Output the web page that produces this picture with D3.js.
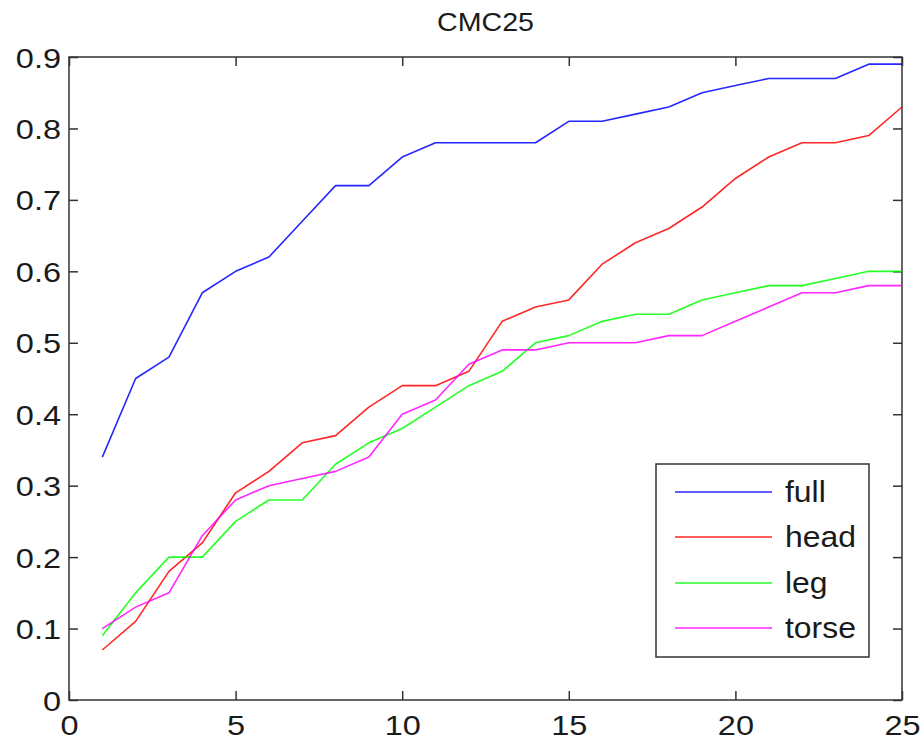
<!DOCTYPE html>
<html>
<head>
<meta charset="utf-8">
<script src="https://cdn.jsdelivr.net/npm/d3@7"></script>
<style>
  html, body { margin: 0; padding: 0; background: #fff; }
  svg { display: block; }
  text { font-family: "Liberation Sans", Arial, sans-serif; fill: #1a1a1a; }
</style>
</head>
<body>
<svg id="chart" width="924" height="744"></svg>
<script>
const title = "CMC25";
const ranks = d3.range(1, 26);
const full  = [0.34,0.45,0.48,0.57,0.60,0.62,0.67,0.72,0.72,0.76,0.78,0.78,0.78,0.78,0.81,0.81,0.82,0.83,0.85,0.86,0.87,0.87,0.87,0.89,0.89];
const head  = [0.07,0.11,0.18,0.22,0.29,0.32,0.36,0.37,0.41,0.44,0.44,0.46,0.53,0.55,0.56,0.61,0.64,0.66,0.69,0.73,0.76,0.78,0.78,0.79,0.83];
const leg   = [0.09,0.15,0.20,0.20,0.25,0.28,0.28,0.33,0.36,0.38,0.41,0.44,0.46,0.50,0.51,0.53,0.54,0.54,0.56,0.57,0.58,0.58,0.59,0.60,0.60];
const torse = [0.10,0.13,0.15,0.23,0.28,0.30,0.31,0.32,0.34,0.40,0.42,0.47,0.49,0.49,0.50,0.50,0.50,0.51,0.51,0.53,0.55,0.57,0.57,0.58,0.58];
const seriesNames = ["full","head","leg","torse"];
const seriesColors = ["#0000ff","#ff0000","#00ff00","#ff00ff"];
const xTicks = [0,5,10,15,20,25];
const yTicks = [0,0.1,0.2,0.3,0.4,0.5,0.6,0.7,0.8,0.9];

const seriesData = [full, head, leg, torse];

const svg = d3.select("#chart");
const L = 69, R = 902, T = 57, B = 700;

const x = d3.scaleLinear().domain([0,25]).range([L,R]);
const y = d3.scaleLinear().domain([0,0.9]).range([B,T]);

// horizontal stretch of text (reference glyphs are wider than Arial)
function stretch(sel, k) {
  sel.each(function() {
    const len = this.getComputedTextLength();
    if (len > 0) d3.select(this).attr("textLength", len * k).attr("lengthAdjust","spacingAndGlyphs");
  });
}

// frame
svg.append("rect").attr("x",L).attr("y",T).attr("width",R-L).attr("height",B-T)
  .attr("fill","#fff").attr("stroke","#333").attr("stroke-width",1.5);

const tickLen = 9;
const fmtY = d => d === 0 ? "0" : d3.format(".1f")(d);
const xAxisB = svg.append("g").attr("transform",`translate(0,${B})`)
  .call(d3.axisBottom(x).tickValues(xTicks).tickSizeInner(-tickLen).tickSizeOuter(0).tickPadding(15).tickFormat(d3.format("d")));
const xAxisT = svg.append("g").attr("transform",`translate(0,${T})`)
  .call(d3.axisTop(x).tickValues(xTicks).tickSizeInner(-tickLen).tickSizeOuter(0).tickFormat(""));
const yAxisL = svg.append("g").attr("transform",`translate(${L},0)`)
  .call(d3.axisLeft(y).tickValues(yTicks).tickSizeInner(-tickLen).tickSizeOuter(0).tickPadding(8).tickFormat(fmtY));
const yAxisR = svg.append("g").attr("transform",`translate(${R},0)`)
  .call(d3.axisRight(y).tickValues(yTicks).tickSizeInner(-tickLen).tickSizeOuter(0).tickFormat(""));

[xAxisB,xAxisT,yAxisL,yAxisR].forEach(g => {
  g.select(".domain").remove();
  g.selectAll(".tick line").attr("stroke","#333").attr("stroke-width",1.5);
  g.selectAll(".tick text").attr("font-size",28).attr("font-family","Liberation Sans, Arial, sans-serif").attr("fill","#1a1a1a");
});
xAxisB.selectAll(".tick text").attr("dy","0.71em");
yAxisL.selectAll(".tick text").attr("dy","0.36em");
stretch(xAxisB.selectAll(".tick text"), 1.16);
stretch(yAxisL.selectAll(".tick text"), 1.16);

// lines
const line = d3.line().x((d,i) => x(ranks[i])).y(d => y(d));
seriesData.forEach((s,k) => {
  svg.append("path").datum(s).attr("d", line)
    .attr("fill","none").attr("stroke",seriesColors[k]).attr("stroke-width",1.6)
    .attr("stroke-linejoin","round").attr("opacity",0.85);
});

// title
const tt = svg.append("text").attr("x",(L+R)/2).attr("y",31).attr("text-anchor","middle")
  .attr("font-size",26).text(title);
stretch(tt, 1.1);

// legend
const lg = svg.append("g");
lg.append("rect").attr("x",656).attr("y",464).attr("width",213).attr("height",193)
  .attr("fill","#fff").attr("stroke","#333").attr("stroke-width",1.5);
const rowY = [492, 537, 583, 628];
seriesNames.forEach((n,k) => {
  lg.append("line").attr("x1",675).attr("x2",772).attr("y1",rowY[k]).attr("y2",rowY[k])
    .attr("stroke",seriesColors[k]).attr("stroke-width",1.6).attr("opacity",0.85);
  const t = lg.append("text").attr("x",785).attr("y",rowY[k]).attr("dy","0.35em")
    .attr("font-size",29).text(n);
  stretch(t, 1.1);
});
</script>
</body>
</html>
